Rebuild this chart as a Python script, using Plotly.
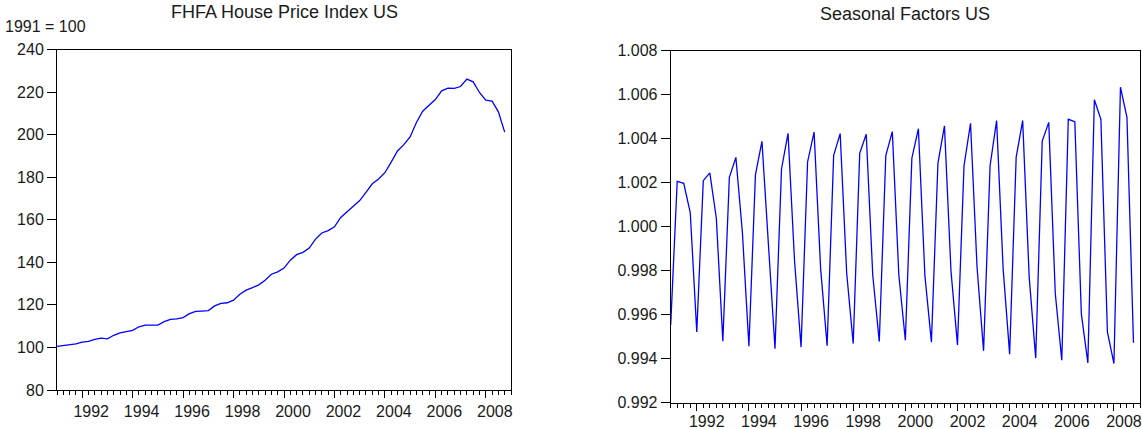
import plotly.graph_objects as go

# ---------------- data ----------------
start_year = 1991
end_year = 2008
quarters = [f"{y}Q{q}" for y in range(start_year, end_year + 1) for q in range(1, 5)]

hpi_us = [
    100.5, 100.9, 101.2, 101.7, 102.5, 102.8, 103.8, 104.4,
    104.0, 105.7, 106.8, 107.4, 108.0, 109.7, 110.5, 110.5,
    110.5, 112.1, 113.2, 113.4, 114.0, 115.9, 116.9, 117.1,
    117.3, 119.5, 120.7, 121.0, 122.2, 125.0, 126.9, 128.1,
    129.4, 131.6, 134.4, 135.5, 137.3, 141.0, 143.6, 144.7,
    146.7, 150.9, 153.8, 154.9, 156.7, 161.1, 163.8, 166.5,
    169.0, 172.9, 176.9, 179.2, 182.1, 187.1, 192.3, 195.3,
    198.9, 205.7, 211.0, 213.8, 216.5, 220.6, 221.8, 221.7,
    222.6, 226.1, 224.8, 219.8, 216.2, 215.7, 210.7, 201.2,
]

seasonal_us = [
    0.99553, 1.00206, 1.00197, 1.00064,
    0.99521, 1.00209, 1.00244, 1.00038,
    0.99479, 1.00224, 1.00315, 0.99973,
    0.99456, 1.00235, 1.00388, 0.99909,
    0.99445, 1.00262, 1.00424, 0.99845,
    0.99452, 1.00294, 1.00430, 0.99809,
    0.99458, 1.00324, 1.00423, 0.99788,
    0.99468, 1.00333, 1.00420, 0.99779,
    0.99477, 1.00323, 1.00432, 0.99780,
    0.99483, 1.00311, 1.00445, 0.99777,
    0.99474, 1.00289, 1.00458, 0.99798,
    0.99462, 1.00276, 1.00470, 0.99815,
    0.99435, 1.00277, 1.00482, 0.99809,
    0.99420, 1.00315, 1.00482, 0.99770,
    0.99402, 1.00389, 1.00474, 0.99697,
    0.99392, 1.00488, 1.00477, 0.99603,
    0.99380, 1.00577, 1.00488, 0.99521,
    0.99377, 1.00634, 1.00497, 0.99472,
]

year_ticks = list(range(start_year, end_year + 1))
year_labels = [str(y) if y % 2 == 0 else "" for y in year_ticks]
hpi_ticks = [80, 100, 120, 140, 160, 180, 200, 220, 240]
sf_ticks = [0.992, 0.994, 0.996, 0.998, 1.000, 1.002, 1.004, 1.006, 1.008]

left_title = "FHFA House Price Index US"
right_title = "Seasonal Factors US"
left_unit = "1991 = 100"

# ---------------- helpers ----------------
def qpos(label):
    y, q = label.split("Q")
    return int(y) + (int(q) - 1) / 4.0

t = [qpos(q) for q in quarters]
quarter_ticks = [start_year + k / 4.0 for k in range((end_year - start_year + 1) * 4 + 1)]

W, H = 1142, 429
FONT = "Liberation Sans, Arial, sans-serif"
TXT = "#1a1a1a"
BLUE = "#0000FF"
TICK_SIZE = 16

fig = go.Figure()
fig.add_trace(go.Scatter(x=t, y=hpi_us, mode="lines", line=dict(color=BLUE, width=1.3),
                         xaxis="x", yaxis="y", hoverinfo="skip", showlegend=False))
fig.add_trace(go.Scatter(x=t, y=seasonal_us, mode="lines", line=dict(color=BLUE, width=1.3),
                         xaxis="x2", yaxis="y2", hoverinfo="skip", showlegend=False))

def xaxis(domain, anchor, shift, standoff):
    return dict(
        domain=domain, anchor=anchor, range=[start_year, end_year + 1],
        tickmode="array", tickvals=year_ticks, ticktext=year_labels,
        ticks="outside", ticklen=7, tickwidth=1, tickcolor="black",
        ticklabelshift=shift, ticklabelstandoff=standoff, automargin=False,
        minor=dict(tickmode="array", tickvals=quarter_ticks, ticks="outside",
                   ticklen=4, tickwidth=1, tickcolor="black", showgrid=False),
        showline=True, linecolor="black", linewidth=1, mirror=True,
        showgrid=False, zeroline=False,
        tickfont=dict(family=FONT, size=TICK_SIZE, color=TXT),
    )

def yaxis(domain, anchor, rng, ticks, fmt):
    return dict(
        domain=domain, anchor=anchor, range=rng, automargin=False,
        tickmode="array", tickvals=ticks, tickformat=fmt,
        ticks="outside", ticklen=9, tickwidth=1, tickcolor="black",
        showline=True, linecolor="black", linewidth=1, mirror=True,
        showgrid=False, zeroline=False,
        tickfont=dict(family=FONT, size=TICK_SIZE, color=TXT),
    )

L = (57, 511, 49.5, 390)
R = (670.7, 1140, 50.7, 402.5)

def xd(b):
    return [b[0] / W, b[1] / W]

def yd(b):
    return [1 - b[3] / H, 1 - b[2] / H]

fig.update_layout(
    width=W, height=H, autosize=False,
    margin=dict(l=0, r=0, t=0, b=0, pad=0, autoexpand=False),
    paper_bgcolor="white", plot_bgcolor="white",
    showlegend=False,
    xaxis=xaxis(xd(L), "y", 9, 0),
    yaxis=yaxis(yd(L), "x", [80, 240], hpi_ticks, "d"),
    xaxis2=xaxis(xd(R), "y2", 10, -3),
    yaxis2=yaxis(yd(R), "x2", [0.992, 1.008], sf_ticks, ".3f"),
    annotations=[
        dict(text=left_title, xref="paper", yref="paper",
             x=(L[0] + L[1]) / 2 / W, y=1 - 12 / H, xanchor="center", yanchor="middle",
             showarrow=False, font=dict(family=FONT, size=18, color=TXT)),
        dict(text=right_title, xref="paper", yref="paper",
             x=(R[0] + R[1]) / 2 / W, y=1 - 14 / H, xanchor="center", yanchor="middle",
             showarrow=False, font=dict(family=FONT, size=18, color=TXT)),
        dict(text=left_unit, xref="paper", yref="paper",
             x=3 / W, y=1 - 26.5 / H, xanchor="left", yanchor="middle",
             showarrow=False, font=dict(family=FONT, size=TICK_SIZE, color=TXT)),
    ],
)

fig.write_html(
    "out.html",
    config={"displayModeBar": False},
    post_script="document.documentElement.style.margin='0';document.body.style.margin='0';document.body.style.overflow='hidden';",
)
